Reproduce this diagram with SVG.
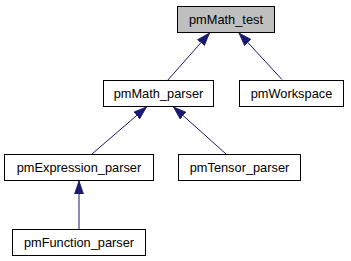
<svg xmlns="http://www.w3.org/2000/svg" width="351" height="261" viewBox="0 0 351 261">
  <style>
    .node rect { fill: #ffffff; stroke: #000000; stroke-width: 1; }
    .node.current rect { fill: #bfbfbf; }
    .node text { font-family: "Liberation Sans", Arial, sans-serif; font-size: 12.8px; fill: #000000; text-anchor: middle; }
    .edge { stroke: #191970; stroke-width: 1; fill: none; marker-start: url(#inherit); }
  </style>
  <defs>
    <!-- filled inheritance arrowhead pointing at the base class -->
    <marker id="inherit" viewBox="0 0 13 10" refX="0" refY="5" markerWidth="13" markerHeight="10" markerUnits="userSpaceOnUse" orient="auto">
      <path d="M0,5 L13,0.5 L13,9.5 Z" fill="#191970" stroke="#191970" stroke-width="0.8"/>
    </marker>
  </defs>
  <rect width="351" height="261" fill="#ffffff"/>

  <g id="edges">
    <path class="edge" d="M209.5,33 L167,81"/>
    <path class="edge" d="M239,33 L282,79.5"/>
    <path class="edge" d="M146.5,107 L92,154"/>
    <path class="edge" d="M173.5,107 L226,154"/>
    <path class="edge" d="M79,181 L79,229"/>
  </g>

  <g id="pmMath_test" class="node current">
    <rect x="177.5" y="6.5" width="97" height="26"/>
    <text x="226" y="23.5">pmMath_test</text>
  </g>
  <g id="pmMath_parser" class="node">
    <rect x="103.5" y="80.5" width="110" height="26"/>
    <text x="158.5" y="97.5">pmMath_parser</text>
  </g>
  <g id="pmWorkspace" class="node">
    <rect x="239.5" y="80.5" width="104" height="26"/>
    <text x="291.5" y="97.5">pmWorkspace</text>
  </g>
  <g id="pmExpression_parser" class="node">
    <rect x="4.5" y="154.5" width="149" height="26"/>
    <text x="79" y="171.5">pmExpression_parser</text>
  </g>
  <g id="pmTensor_parser" class="node">
    <rect x="178.5" y="154.5" width="122" height="26"/>
    <text x="239.5" y="171.5">pmTensor_parser</text>
  </g>
  <g id="pmFunction_parser" class="node">
    <rect x="12.5" y="229.5" width="133" height="26"/>
    <text x="79" y="246.5">pmFunction_parser</text>
  </g>
</svg>
